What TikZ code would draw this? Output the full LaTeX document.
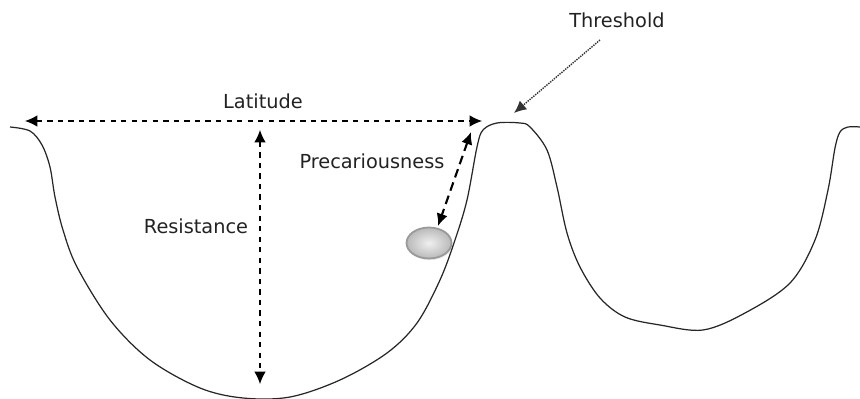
\documentclass[tikz,border=0pt]{standalone}
\usepackage{fontspec}
\setmainfont{DejaVu Sans}
\usetikzlibrary{arrows.meta, shapes.geometric, shadows}
\definecolor{inkgray}{RGB}{34, 34, 34}
\tikzstyle{label} = [font=\fontsize{11}{13}\selectfont, text=inkgray, inner sep=1pt]
\tikzstyle{measure} = [{Latex[length=7pt,width=6.5pt]}-{Latex[length=7pt,width=6.5pt]}, dashed, line width=0.6pt]

\begin{document}
\begin{tikzpicture}[x=0.02cm, y=-0.02cm]
    \useasboundingbox (0,0) rectangle (860,399);
    % landscape: two valleys
    \draw[line width=0.7pt, black!85] plot[smooth, tension=0.55] coordinates {
        (10,127) (30,131) (42,145) (50,167) (55,197) (63,230) (77,267) (110,320) (150,360)
        (200,388) (243,398) (290,397) (340,380) (387,353) (417,323) (440,280) (455,240)
        (467,200) (477,147) (483,130) (497,123) (520,123) (530,127) (547,150) (557,187)
        (567,233) (580,267) (600,298) (625,317) (660,325) (703,330) (745,313) (790,283)
        (815,240) (828,190) (835,148) (840,132) (848,127) (860,127)};
    % ball
    \node[ellipse, draw=gray!80, line width=1pt, inner color=gray!12, outer color=gray!55,
          minimum width=0.9cm, minimum height=0.62cm, drop shadow={opacity=0.15, shadow xshift=0.5pt, shadow yshift=-1pt}] (ball) at (429,243) {};
    % labels
    \node[label] (latitude) at (263,101) {Latitude};
    \node[label] (resistance) at (196,226) {Resistance};
    \node[label] (precarious) at (372,161) {Precariousness};
    \node[label] (threshold) at (617,20) {Threshold};
    % arrow ends
    \coordinate (latL) at (25,121);
    \coordinate (latR) at (482,121);
    \coordinate (resT) at (260,130);
    \coordinate (resB) at (260,384);
    \coordinate (preT) at (471,132);
    \coordinate (preB) at (438,226);
    \coordinate (thrS) at (600,40);
    \coordinate (peak) at (514,113);
    \draw[measure] (latL) -- (latR);
    \draw[measure] (resT) -- (resB);
    \draw[measure, line width=1.2pt, dash pattern=on 5pt off 3pt] (preT) -- (preB);
    \draw[-{Latex[length=7pt,width=6.5pt]}, line width=0.8pt, dash pattern=on 0.8pt off 0.6pt, black!80] (thrS) -- (peak);
\end{tikzpicture}
\end{document}
